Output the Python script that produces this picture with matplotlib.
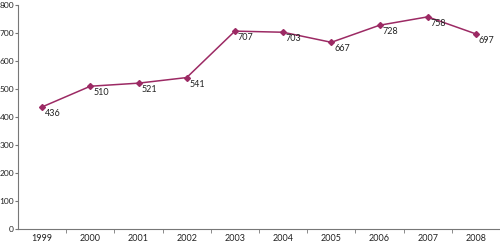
import matplotlib.pyplot as plt

years = ['1999', '2000', '2001', '2002', '2003', '2004', '2005', '2006', '2007', '2008']
values = [436, 510, 521, 541, 707, 703, 667, 728, 758, 697]

color = '#9c2a64'
plt.rcParams['font.family'] = ['Lato', 'DejaVu Sans']

fig = plt.figure(figsize=(5, 2.43), dpi=100)
ax = fig.add_axes([0.036, 0.058, 0.964, 0.921])

x = list(range(len(years)))
ax.plot(x, values, color=color, lw=1.1, marker='D', ms=3)

for xi, v in zip(x, values):
    ax.annotate(str(v), (xi, v), xytext=(2, -1.5), textcoords='offset points',
                ha='left', va='top', fontsize=6.5, color='#222222')

ax.set_xlim(-0.5, len(years) - 0.5)
ax.set_ylim(0, 800)
ax.set_yticks(range(0, 801, 100))
ax.set_xticks(x)
ax.set_xticklabels(years)
ax.set_xticks([i + 0.5 for i in x], minor=True)
ax.tick_params(axis='x', which='major', length=0, labelsize=6.5, pad=4, labelcolor='#222222')
ax.tick_params(axis='x', which='minor', length=3, color='#777777')
ax.tick_params(axis='y', length=2, labelsize=6, pad=0.8, color='#777777', labelcolor='#222222')

for s in ['top', 'right']:
    ax.spines[s].set_visible(False)
for s in ['left', 'bottom']:
    ax.spines[s].set_color('#777777')
    ax.spines[s].set_linewidth(0.8)

fig.savefig('out.png', dpi=100)
